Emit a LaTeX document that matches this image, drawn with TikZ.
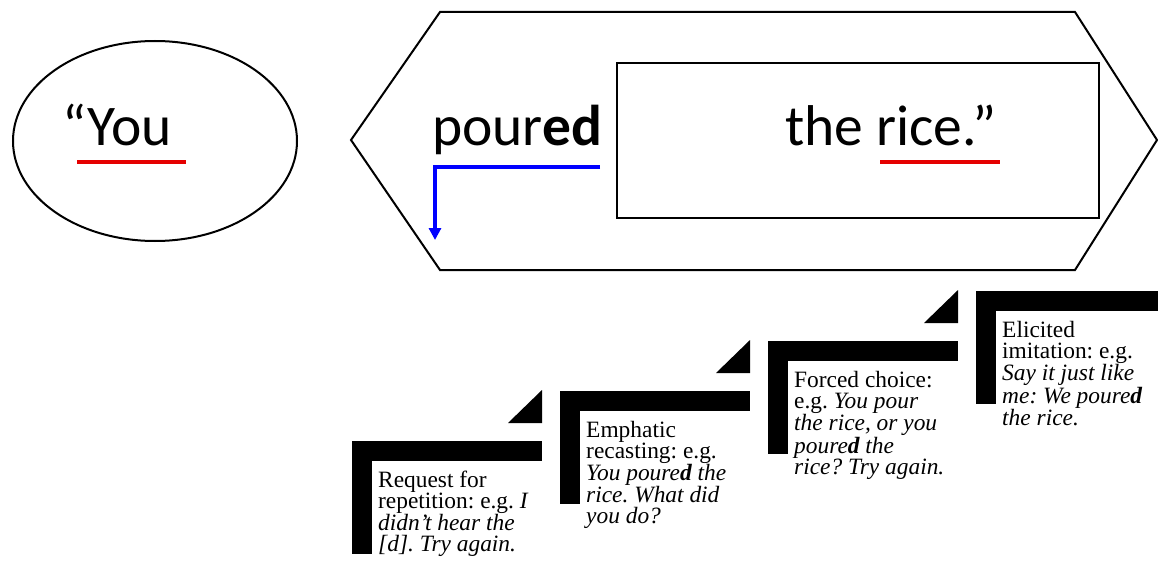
\documentclass[tikz,border=0pt]{standalone}
\usepackage{fontspec}
\setmainfont{Liberation Serif}
\newfontfamily\calibri{Carlito}
\usetikzlibrary{shapes.geometric,arrows.meta,positioning}

\tikzset{
  big/.style={font=\calibri\fontsize{57.5}{69}\selectfont, inner sep=0pt, anchor=base west},
  note/.style={font=\fontsize{23.4}{21}\selectfont\frenchspacing, inner sep=0pt, anchor=north west, align=left},
  outline/.style={draw, line width=2pt},
  redline/.style={red!90!black, line width=4pt},
  blueline/.style={blue, line width=4pt, -{Triangle[length=12pt,width=12pt]}}
}

\begin{document}
\begin{tikzpicture}[x=1pt,y=-1pt]
  \useasboundingbox (0,0) rectangle (1158,567);
  % speaker bubble
  \node[outline, ellipse, minimum width=284pt, minimum height=200pt] (bubble) at (155,141) {};
  \node[big] (you) at (62,145) {“You};
  \draw[redline] (77,162) -- (186,162);
  % the sentence frame
  \draw[outline, line join=miter] (351,140) -- (440,12) -- (1075,12) -- (1157,140) -- (1075,270) -- (440,270) -- cycle;
  \node[outline, minimum width=482pt, minimum height=155pt, inner sep=0pt] (box) at (858,140.5) {};
  \node[big] (poured) at (432,145) {pour\textbf{ed}};
  \node[big] (rice) at (785,145) {the rice.”};
  \draw[redline] (880,162) -- (1000,162);
  \coordinate (tail) at (600,167);
  \coordinate (head) at (435,240);
  \draw[blueline] (tail) -| (head);
  % the steps
  \foreach \i/\txt in {
      0/{Request for\\repetition: e.g. \textit{I}\\\textit{didn’t hear the}\\\textit{[d]. Try again.}},
      1/{Emphatic\\recasting: e.g.\\\textit{You poure\textbf{d} the}\\\textit{rice. What did}\\\textit{you do?}},
      2/{Forced choice:\\e.g. \textit{You pour}\\\textit{the rice, or you}\\\textit{poure\textbf{d} the}\\\textit{rice? Try again.}},
      3/{Elicited\\imitation: e.g.\\\textit{Say it just like}\\\textit{me: We poure\textbf{d}}\\\textit{the rice.}}} {
    \pgfmathsetmacro\sx{352+208*\i}
    \pgfmathsetmacro\sy{441-50*\i}
    \fill (\sx,\sy) rectangle ++(190,20);
    \fill (\sx,\sy) rectangle ++(20,113);
    \ifnum\i<3
      \fill (\sx+156,\sy-18) -- ++(34,0) -- ++(0,-33) -- cycle;
    \fi
    \node[note] (step\i) at (\sx+26,\sy+30) {\txt};
  }
\end{tikzpicture}
\end{document}
